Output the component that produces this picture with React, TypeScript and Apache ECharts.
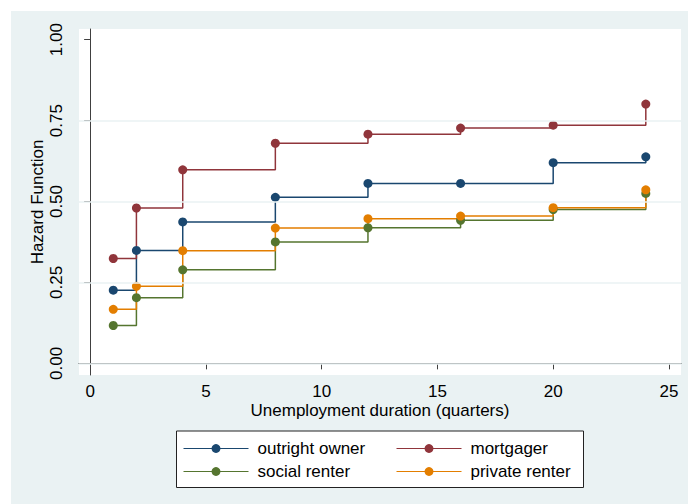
import React, { useEffect, useRef } from "react";
import * as echarts from "echarts";

// Unemployment duration in quarters
const durations = [1, 2, 4, 8, 12, 16, 20, 24];

// Hazard function by housing tenure
const outrightOwner = [0.226, 0.349, 0.437, 0.513, 0.556, 0.556, 0.620, 0.638];
const mortgager = [0.324, 0.480, 0.598, 0.680, 0.708, 0.727, 0.736, 0.801];
const socialRenter = [0.117, 0.203, 0.289, 0.375, 0.419, 0.442, 0.475, 0.525];
const privateRenter = [0.167, 0.238, 0.348, 0.418, 0.447, 0.455, 0.481, 0.536];

const xTicks = [0, 5, 10, 15, 20, 25];
const yTicks = [0, 0.25, 0.5, 0.75, 1];
const gridValues = [0, 0.25, 0.5, 0.75];

const FONT = "Liberation Sans, Arial, Helvetica, sans-serif";
const AXIS_COLOR = "#404040";
const PANEL = "#EAF2F3";

const seriesDefs = [
  { name: "outright owner", values: outrightOwner, color: "#1a476f" },
  { name: "mortgager", values: mortgager, color: "#90353b" },
  { name: "social renter", values: socialRenter, color: "#55752f" },
  { name: "private renter", values: privateRenter, color: "#e37e00" },
];

export default function App() {
  const ref = useRef<HTMLDivElement>(null);

  useEffect(() => {
    if (!ref.current) return;
    const chart = echarts.init(ref.current, undefined, { renderer: "svg" });

    const legendCommon = {
      orient: "vertical" as const,
      top: 440,
      itemWidth: 65,
      itemHeight: 11,
      itemGap: 6,
      lineStyle: { width: 1 },
      textStyle: { fontFamily: FONT, fontSize: 17, color: "#000", padding: [0, 0, 0, 4] },
      padding: 0,
      selectedMode: false,
    };

    chart.setOption({
      animation: false,
      backgroundColor: "#ffffff",
      textStyle: { fontFamily: FONT },
      graphic: [
        {
          type: "rect",
          z: -10,
          shape: { x: 11, y: 11, width: 677, height: 493 },
          style: { fill: PANEL },
          silent: true,
        },
        {
          type: "rect",
          z: 3,
          shape: { x: 176.5, y: 431, width: 407, height: 56.5 },
          style: { fill: "#ffffff", stroke: "#222", lineWidth: 1 },
          silent: true,
        },
      ],
      grid: {
        left: 79,
        top: 29,
        width: 602,
        height: 346,
        show: true,
        backgroundColor: "#ffffff",
        borderWidth: 0,
      },
      legend: [
        {
          ...legendCommon,
          left: 183,
          data: ["outright owner", "social renter"],
        },
        {
          ...legendCommon,
          left: 396,
          data: ["mortgager", "private renter"],
        },
      ],
      xAxis: {
        type: "value",
        min: -0.48,
        max: 25.52,
        name: "Unemployment duration (quarters)",
        nameLocation: "middle",
        nameGap: 27,
        nameMoveOverlap: false,
        nameTextStyle: { fontFamily: FONT, fontSize: 17, color: "#000" },
        axisLine: { show: true, lineStyle: { color: AXIS_COLOR, width: 1 } },
        axisTick: {
          show: true,
          length: 6,
          customValues: xTicks,
          lineStyle: { color: AXIS_COLOR },
        },
        axisLabel: {
          customValues: xTicks,
          fontFamily: FONT,
          fontSize: 17,
          color: "#000",
          margin: 8,
        },
        splitLine: { show: false },
      },
      yAxis: {
        type: "value",
        min: -0.036,
        max: 1.033,
        name: "Hazard Function",
        nameLocation: "middle",
        nameRotate: 90,
        nameGap: 33,
        nameMoveOverlap: false,
        nameTextStyle: { fontFamily: FONT, fontSize: 17, color: "#000" },
        axisLine: { show: true, lineStyle: { color: AXIS_COLOR, width: 1 } },
        axisTick: {
          show: true,
          length: 6,
          customValues: yTicks,
          lineStyle: { color: AXIS_COLOR },
        },
        axisLabel: {
          customValues: yTicks,
          rotate: 90,
          fontFamily: FONT,
          fontSize: 17,
          color: "#000",
          margin: 14,
          formatter: (v: number) => v.toFixed(2),
        },
        splitLine: { show: false },
      },
      series: [
        {
          // horizontal reference lines behind the step curves
          type: "line",
          name: "grid",
          data: [],
          z: 1,
          silent: true,
          markLine: {
            silent: true,
            symbol: ["none", "none"],
            label: { show: false },
            lineStyle: { color: PANEL, width: 1.5, type: "solid" },
            data: gridValues.map((v) => ({ yAxis: v })),
          },
        },
        ...seriesDefs.map((s) => ({
          type: "line",
          name: s.name,
          step: "end",
          data: durations.map((d, i) => [d, s.values[i]]),
          symbol: "circle",
          symbolSize: 9,
          showSymbol: true,
          color: s.color,
          itemStyle: { color: s.color },
          lineStyle: { color: s.color, width: 1.5 },
          z: 2,
        })),
      ],
    });

    return () => chart.dispose();
  }, []);

  return (
    <div
      ref={ref}
      style={{ position: "fixed", left: 0, top: 0, width: 688, height: 504 }}
    />
  );
}
